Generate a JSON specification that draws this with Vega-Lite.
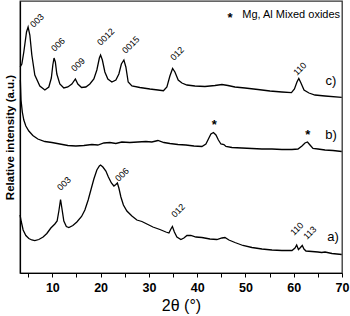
{
  "$schema": "https://vega.github.io/schema/vega-lite/v6.json",
  "width": 322,
  "height": 272,
  "autosize": {"type": "none"},
  "padding": {"left": 20, "top": 1, "right": 8, "bottom": 43},
  "config": {"view": {"stroke": "#333", "strokeWidth": 1.3}, "font": "Liberation Sans"},
  "datasets": {
    "xrd": [
      {"sample":"c","two_theta":3.33,"intensity":206},{"sample":"c","two_theta":3.68,"intensity":209},{"sample":"c","two_theta":4.09,"intensity":221},{"sample":"c","two_theta":4.65,"intensity":241},{"sample":"c","two_theta":4.98,"intensity":246},{"sample":"c","two_theta":5.34,"intensity":238},{"sample":"c","two_theta":5.75,"intensity":218},{"sample":"c","two_theta":6.37,"intensity":198},{"sample":"c","two_theta":7.41,"intensity":187},{"sample":"c","two_theta":8.45,"intensity":183},{"sample":"c","two_theta":9.27,"intensity":186},{"sample":"c","two_theta":9.79,"intensity":195},{"sample":"c","two_theta":10.10,"intensity":208},{"sample":"c","two_theta":10.35,"intensity":215},{"sample":"c","two_theta":10.62,"intensity":211},{"sample":"c","two_theta":10.93,"intensity":199},{"sample":"c","two_theta":11.55,"intensity":189},{"sample":"c","two_theta":12.38,"intensity":185},{"sample":"c","two_theta":13.21,"intensity":186},{"sample":"c","two_theta":14.04,"intensity":189},{"sample":"c","two_theta":14.77,"intensity":194},{"sample":"c","two_theta":15.28,"intensity":189},{"sample":"c","two_theta":16.05,"intensity":185.5},{"sample":"c","two_theta":16.94,"intensity":186},{"sample":"c","two_theta":17.77,"intensity":189},{"sample":"c","two_theta":18.60,"intensity":194},{"sample":"c","two_theta":19.22,"intensity":203},{"sample":"c","two_theta":19.74,"intensity":215},{"sample":"c","two_theta":19.99,"intensity":218},{"sample":"c","two_theta":20.36,"intensity":213},{"sample":"c","two_theta":20.88,"intensity":201},{"sample":"c","two_theta":21.50,"intensity":194},{"sample":"c","two_theta":22.33,"intensity":191},{"sample":"c","two_theta":23.16,"intensity":193},{"sample":"c","two_theta":23.78,"intensity":199},{"sample":"c","two_theta":24.30,"intensity":209},{"sample":"c","two_theta":24.82,"intensity":213},{"sample":"c","two_theta":25.23,"intensity":206},{"sample":"c","two_theta":25.71,"intensity":191},{"sample":"c","two_theta":26.48,"intensity":187},{"sample":"c","two_theta":28.13,"intensity":185.5},{"sample":"c","two_theta":30.21,"intensity":184},{"sample":"c","two_theta":31.87,"intensity":183},{"sample":"c","two_theta":33.01,"intensity":182.3},{"sample":"c","two_theta":33.73,"intensity":186},{"sample":"c","two_theta":34.35,"intensity":197},{"sample":"c","two_theta":34.91,"intensity":204.5},{"sample":"c","two_theta":35.39,"intensity":201},{"sample":"c","two_theta":36.07,"intensity":193},{"sample":"c","two_theta":36.84,"intensity":190},{"sample":"c","two_theta":37.88,"intensity":188},{"sample":"c","two_theta":39.53,"intensity":187},{"sample":"c","two_theta":41.61,"intensity":186.5},{"sample":"c","two_theta":43.68,"intensity":187.5},{"sample":"c","two_theta":45.13,"intensity":188.5},{"sample":"c","two_theta":46.37,"intensity":187.5},{"sample":"c","two_theta":47.82,"intensity":186},{"sample":"c","two_theta":49.90,"intensity":185},{"sample":"c","two_theta":52.59,"intensity":183.5},{"sample":"c","two_theta":55.08,"intensity":182},{"sample":"c","two_theta":57.56,"intensity":181},{"sample":"c","two_theta":59.53,"intensity":180.3},{"sample":"c","two_theta":60.15,"intensity":184},{"sample":"c","two_theta":60.67,"intensity":191},{"sample":"c","two_theta":61.05,"intensity":194.5},{"sample":"c","two_theta":61.50,"intensity":190},{"sample":"c","two_theta":62.13,"intensity":183},{"sample":"c","two_theta":63.16,"intensity":180},{"sample":"c","two_theta":64.40,"intensity":178},{"sample":"c","two_theta":66.48,"intensity":177},{"sample":"c","two_theta":69.94,"intensity":175.7},
      {"sample":"b","two_theta":3.37,"intensity":193},{"sample":"b","two_theta":3.51,"intensity":173},{"sample":"b","two_theta":3.78,"intensity":161},{"sample":"b","two_theta":4.09,"intensity":153},{"sample":"b","two_theta":4.51,"intensity":147},{"sample":"b","two_theta":5.13,"intensity":142},{"sample":"b","two_theta":5.96,"intensity":137.5},{"sample":"b","two_theta":6.99,"intensity":134},{"sample":"b","two_theta":8.45,"intensity":131.5},{"sample":"b","two_theta":9.90,"intensity":130.5},{"sample":"b","two_theta":11.55,"intensity":129},{"sample":"b","two_theta":13.21,"intensity":127.5},{"sample":"b","two_theta":14.87,"intensity":127},{"sample":"b","two_theta":16.53,"intensity":127.5},{"sample":"b","two_theta":18.19,"intensity":128.5},{"sample":"b","two_theta":19.43,"intensity":128},{"sample":"b","two_theta":20.67,"intensity":130},{"sample":"b","two_theta":21.92,"intensity":130.5},{"sample":"b","two_theta":23.16,"intensity":129.5},{"sample":"b","two_theta":24.40,"intensity":131},{"sample":"b","two_theta":26.06,"intensity":130.5},{"sample":"b","two_theta":27.72,"intensity":131},{"sample":"b","two_theta":29.38,"intensity":131.5},{"sample":"b","two_theta":30.62,"intensity":131},{"sample":"b","two_theta":31.87,"intensity":132.5},{"sample":"b","two_theta":33.11,"intensity":130.5},{"sample":"b","two_theta":34.35,"intensity":129.5},{"sample":"b","two_theta":36.01,"intensity":128.5},{"sample":"b","two_theta":37.67,"intensity":128},{"sample":"b","two_theta":39.33,"intensity":127},{"sample":"b","two_theta":40.98,"intensity":126.5},{"sample":"b","two_theta":41.81,"intensity":129},{"sample":"b","two_theta":42.43,"intensity":135},{"sample":"b","two_theta":42.85,"intensity":139},{"sample":"b","two_theta":43.37,"intensity":140.5},{"sample":"b","two_theta":43.89,"intensity":138},{"sample":"b","two_theta":44.40,"intensity":133},{"sample":"b","two_theta":44.92,"intensity":129},{"sample":"b","two_theta":45.54,"intensity":128.5},{"sample":"b","two_theta":45.96,"intensity":126.5},{"sample":"b","two_theta":47.20,"intensity":125.5},{"sample":"b","two_theta":49.27,"intensity":125},{"sample":"b","two_theta":51.35,"intensity":124.5},{"sample":"b","two_theta":53.42,"intensity":124},{"sample":"b","two_theta":55.49,"intensity":124},{"sample":"b","two_theta":57.56,"intensity":123.5},{"sample":"b","two_theta":59.64,"intensity":123.5},{"sample":"b","two_theta":60.88,"intensity":124},{"sample":"b","two_theta":61.71,"intensity":127},{"sample":"b","two_theta":62.33,"intensity":130},{"sample":"b","two_theta":62.85,"intensity":131},{"sample":"b","two_theta":63.37,"intensity":128},{"sample":"b","two_theta":63.99,"intensity":124.5},{"sample":"b","two_theta":65.02,"intensity":124},{"sample":"b","two_theta":66.48,"intensity":123},{"sample":"b","two_theta":68.13,"intensity":122.5},{"sample":"b","two_theta":69.94,"intensity":121.5},
      {"sample":"a","two_theta":3.31,"intensity":58},{"sample":"a","two_theta":3.58,"intensity":51},{"sample":"a","two_theta":3.95,"intensity":43},{"sample":"a","two_theta":4.51,"intensity":37.5},{"sample":"a","two_theta":5.13,"intensity":34.5},{"sample":"a","two_theta":5.75,"intensity":33},{"sample":"a","two_theta":6.37,"intensity":32.3},{"sample":"a","two_theta":7.20,"intensity":33.5},{"sample":"a","two_theta":8.09,"intensity":36},{"sample":"a","two_theta":8.86,"intensity":39.5},{"sample":"a","two_theta":9.69,"intensity":45},{"sample":"a","two_theta":10.52,"intensity":49},{"sample":"a","two_theta":10.99,"intensity":52},{"sample":"a","two_theta":11.35,"intensity":62},{"sample":"a","two_theta":11.70,"intensity":73.5},{"sample":"a","two_theta":11.97,"intensity":65},{"sample":"a","two_theta":12.38,"intensity":52},{"sample":"a","two_theta":12.90,"intensity":46.5},{"sample":"a","two_theta":13.42,"intensity":45.5},{"sample":"a","two_theta":14.25,"intensity":47.5},{"sample":"a","two_theta":15.08,"intensity":51},{"sample":"a","two_theta":16.05,"intensity":56.5},{"sample":"a","two_theta":16.74,"intensity":63},{"sample":"a","two_theta":17.42,"intensity":73},{"sample":"a","two_theta":17.98,"intensity":83},{"sample":"a","two_theta":18.60,"intensity":94},{"sample":"a","two_theta":19.22,"intensity":103},{"sample":"a","two_theta":19.74,"intensity":107},{"sample":"a","two_theta":19.99,"intensity":108},{"sample":"a","two_theta":20.47,"intensity":106},{"sample":"a","two_theta":21.09,"intensity":102},{"sample":"a","two_theta":21.61,"intensity":96},{"sample":"a","two_theta":22.23,"intensity":90},{"sample":"a","two_theta":22.75,"intensity":87},{"sample":"a","two_theta":23.16,"intensity":88.5},{"sample":"a","two_theta":23.47,"intensity":90},{"sample":"a","two_theta":23.78,"intensity":85},{"sample":"a","two_theta":24.20,"intensity":76},{"sample":"a","two_theta":24.72,"intensity":68},{"sample":"a","two_theta":25.44,"intensity":62},{"sample":"a","two_theta":26.48,"intensity":57},{"sample":"a","two_theta":27.51,"intensity":53},{"sample":"a","two_theta":28.55,"intensity":51.5},{"sample":"a","two_theta":29.59,"intensity":49},{"sample":"a","two_theta":30.83,"intensity":46},{"sample":"a","two_theta":32.28,"intensity":43.5},{"sample":"a","two_theta":33.52,"intensity":41},{"sample":"a","two_theta":34.15,"intensity":40},{"sample":"a","two_theta":34.56,"intensity":44},{"sample":"a","two_theta":34.87,"intensity":46.5},{"sample":"a","two_theta":35.28,"intensity":41},{"sample":"a","two_theta":35.80,"intensity":36},{"sample":"a","two_theta":36.63,"intensity":33.5},{"sample":"a","two_theta":37.25,"intensity":35},{"sample":"a","two_theta":37.88,"intensity":37.5},{"sample":"a","two_theta":38.70,"intensity":37.5},{"sample":"a","two_theta":39.74,"intensity":36},{"sample":"a","two_theta":40.98,"intensity":35.5},{"sample":"a","two_theta":42.64,"intensity":34},{"sample":"a","two_theta":44.09,"intensity":33.5},{"sample":"a","two_theta":45.13,"intensity":35},{"sample":"a","two_theta":45.75,"intensity":35.5},{"sample":"a","two_theta":46.58,"intensity":33},{"sample":"a","two_theta":47.82,"intensity":30.5},{"sample":"a","two_theta":49.48,"intensity":27.5},{"sample":"a","two_theta":51.35,"intensity":25.5},{"sample":"a","two_theta":53.42,"intensity":24},{"sample":"a","two_theta":55.49,"intensity":23},{"sample":"a","two_theta":57.56,"intensity":22.5},{"sample":"a","two_theta":59.64,"intensity":22.5},{"sample":"a","two_theta":60.26,"intensity":25},{"sample":"a","two_theta":60.61,"intensity":28},{"sample":"a","two_theta":60.98,"intensity":23.5},{"sample":"a","two_theta":61.30,"intensity":25},{"sample":"a","two_theta":61.77,"intensity":27.5},{"sample":"a","two_theta":62.12,"intensity":24},{"sample":"a","two_theta":62.54,"intensity":22},{"sample":"a","two_theta":63.78,"intensity":21.5},{"sample":"a","two_theta":65.02,"intensity":21},{"sample":"a","two_theta":65.79,"intensity":20.5},{"sample":"a","two_theta":66.48,"intensity":21},{"sample":"a","two_theta":67.93,"intensity":19.5},{"sample":"a","two_theta":69.94,"intensity":18.5}
    ],
    "peaks": [
      {"label":"003","two_theta":6.17,"intensity":245},
      {"label":"006","two_theta":10.52,"intensity":221},
      {"label":"009","two_theta":14.66,"intensity":201},
      {"label":"0012","two_theta":20.05,"intensity":227},
      {"label":"0015","two_theta":25.23,"intensity":219},
      {"label":"012","two_theta":35.18,"intensity":212},
      {"label":"110","two_theta":60.67,"intensity":197},
      {"label":"003","two_theta":11.76,"intensity":82},
      {"label":"006","two_theta":23.78,"intensity":91},
      {"label":"012","two_theta":35.39,"intensity":55},
      {"label":"110","two_theta":60.05,"intensity":37},
      {"label":"113","two_theta":62.75,"intensity":33}
    ],
    "stars": [
      {"label":"*","two_theta":43.53,"intensity":148},
      {"label":"*","two_theta":62.89,"intensity":138},
      {"label":"*","two_theta":46.79,"intensity":255}
    ],
    "series": [
      {"label":"c)","two_theta":67.72,"intensity":192},
      {"label":"b)","two_theta":67.72,"intensity":138},
      {"label":"a)","two_theta":68.13,"intensity":36}
    ],
    "legend": [
      {"label":"Mg, Al Mixed oxides","two_theta":69.6,"intensity":258}
    ]
  },
  "encoding": {
    "x": {"field":"two_theta","type":"quantitative","scale":{"domain":[3.3,70],"nice":false,"zero":false},
      "axis":{"title":"2θ (°)","values":[5,10,15,20,25,30,35,40,45,50,55,60,65,70],"labelExpr":"datum.value % 10 === 0 ? datum.label : ''","grid":false,"domainColor":"black","domainWidth":1.2,"tickColor":"black","tickSize":4,"labelColor":"black","labelFontWeight":"bold","labelFontSize":12.5,"labelPadding":4,"labelFlush":false,"labelOverlap":false,"labelBound":false,"titleFontSize":16,"titleFontWeight":"normal","titleColor":"black","titlePadding":4}},
    "y": {"field":"intensity","type":"quantitative","scale":{"domain":[0,272],"nice":false,"zero":false},
      "axis":{"title":"Relative intensity (a.u.)","ticks":false,"labels":false,"grid":false,"domainColor":"black","domainWidth":1.2,"titleFontSize":11.5,"titleFontWeight":"bold","titleColor":"black","titlePadding":5}}
  },
  "layer": [
    {"data":{"name":"xrd"},"mark":{"type":"line","color":"black","strokeWidth":1.3},"encoding":{"detail":{"field":"sample"}}},
    {"data":{"name":"peaks"},"mark":{"type":"text","angle":-45,"align":"left","baseline":"alphabetic","fontSize":9,"color":"black"},"encoding":{"text":{"field":"label"}}},
    {"data":{"name":"stars"},"mark":{"type":"text","align":"center","baseline":"middle","fontSize":13,"fontWeight":"bold","color":"black"},"encoding":{"text":{"field":"label"}}},
    {"data":{"name":"series"},"mark":{"type":"text","align":"center","baseline":"middle","fontSize":13,"color":"black"},"encoding":{"text":{"field":"label"}}},
    {"data":{"name":"legend"},"mark":{"type":"text","align":"right","baseline":"middle","fontSize":11,"color":"black"},"encoding":{"text":{"field":"label"}}}
  ]
}
